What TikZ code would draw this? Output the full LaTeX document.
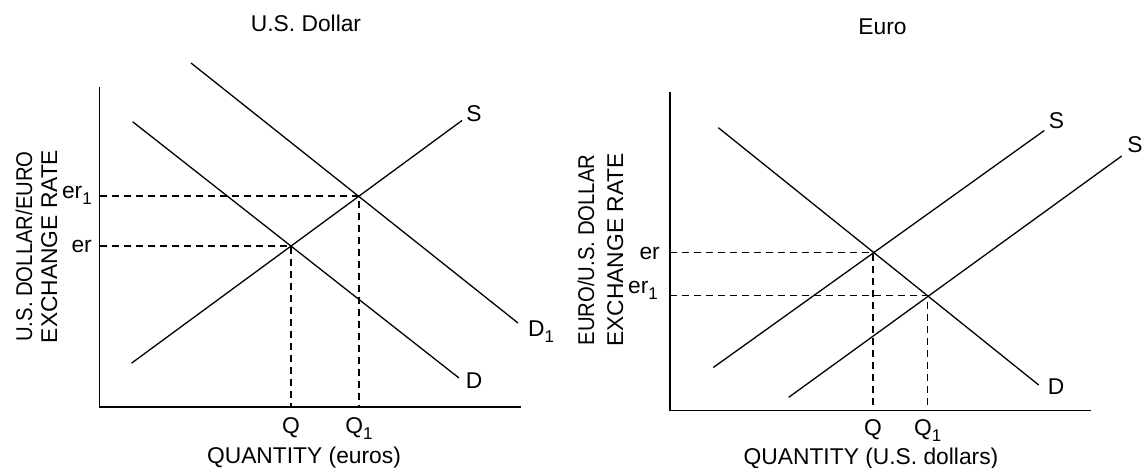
\documentclass[tikz,border=0pt]{standalone}
\usepackage{fontspec}
\setmainfont{Liberation Sans}
\newcommand\mysub[1]{\raisebox{-0.28em}{\fontsize{17}{17}\selectfont #1}}
\tikzset{
  lbl/.style={inner sep=0pt, font=\fontsize{22.8}{27}\selectfont},
  curve/.style={line width=1.3pt},
  axisline/.style={line width=1.4pt},
  guide/.style={line width=1.1pt, dash pattern=on 7pt off 5pt},
}
\begin{document}
\begin{tikzpicture}[x=1pt,y=-1pt]
\useasboundingbox (0,0) rectangle (1143,468);
% ---------------- Left panel ----------------
\coordinate (LO) at (99.5,407);
\coordinate (LT) at (99.5,87);
\coordinate (LX) at (521,407);
\coordinate (LE) at (291,246);
\coordinate (LE1) at (359,196);
\coordinate (LEy) at (99.5,246);
\coordinate (LE1y) at (99.5,196);
\coordinate (LEx) at (291,407);
\coordinate (LE1x) at (359,407);
\coordinate (LSa) at (131.5,363.2);
\coordinate (LSb) at (462,120.5);
\coordinate (LDa) at (132.6,121.7);
\coordinate (LDb) at (459,378);
\coordinate (LD1a) at (191,63);
\coordinate (LD1b) at (518,323);
\draw[axisline] (LT) -- (LO) -- (LX);
\draw[curve] (LSa) -- (LSb);
\draw[curve] (LDa) -- (LDb);
\draw[curve] (LD1a) -- (LD1b);
\draw[guide] (LEy) -- (LE) -- (LEx);
\draw[guide] (LE1y) -- (LE1) -- (LE1x);
\node[lbl, anchor=base] (ltitle) at (306,31.5) {U.S. Dollar};
\node[lbl, anchor=base east] (ler1) at (92,198) {er\mysub{1}};
\node[lbl, anchor=base east] (ler) at (92,252) {er};
\node[lbl, anchor=base] (lq) at (291,433) {Q};
\node[lbl, anchor=base] (lq1) at (359,433) {Q\mysub{1}};
\node[lbl, anchor=base] (lqty) at (304,463) {QUANTITY (euros)};
\node[lbl, anchor=base] (ls) at (474,122) {S};
\node[lbl, anchor=base] (ld) at (474,388) {D};
\node[lbl, anchor=base west] (ld1) at (528,336) {D\mysub{1}};
\node[lbl, anchor=base, rotate=90] (ly1) at (32,246.5) {\scalebox{0.89}[1]{U.S. DOLLAR/EURO}};
\node[lbl, anchor=base, rotate=90] (ly2) at (57,246.5) {EXCHANGE RATE};
% ---------------- Right panel ----------------
\coordinate (RO) at (670,410.5);
\coordinate (RT) at (670,92);
\coordinate (RX) at (1091,410.5);
\coordinate (RE) at (873,252.7);
\coordinate (RE1) at (927.7,295.7);
\coordinate (REy) at (670,252.7);
\coordinate (RE1y) at (670,295.7);
\coordinate (REx) at (873,410.5);
\coordinate (RE1x) at (927.7,410.5);
\coordinate (RDa) at (718.3,127.7);
\coordinate (RDb) at (1038.7,385);
\coordinate (RSa) at (713.3,367.5);
\coordinate (RSb) at (1044.3,130.5);
\coordinate (RS2a) at (788.7,397.3);
\coordinate (RS2b) at (1121.7,156);
\draw[axisline] (RT) -- (RO) -- (RX);
\draw[curve] (RDa) -- (RDb);
\draw[curve] (RSa) -- (RSb);
\draw[curve] (RS2a) -- (RS2b);
\draw[guide] (REy) -- (RE) -- (REx);
\draw[guide] (RE1y) -- (RE1) -- (RE1x);
\node[lbl, anchor=base] (rtitle) at (882.5,35) {Euro};
\node[lbl, anchor=base east] (rer) at (660,259) {er};
\node[lbl, anchor=base east] (rer1) at (658,293.5) {er\mysub{1}};
\node[lbl, anchor=base] (rq) at (873,435) {Q};
\node[lbl, anchor=base] (rq1) at (927.7,435) {Q\mysub{1}};
\node[lbl, anchor=base] (rqty) at (871,464.5) {QUANTITY (U.S. dollars)};
\node[lbl, anchor=base] (rs) at (1056.5,129) {S};
\node[lbl, anchor=base] (rs2) at (1135,153) {S};
\node[lbl, anchor=base] (rd) at (1056,394) {D};
\node[lbl, anchor=base, rotate=90] (ry1) at (594,250) {\scalebox{0.89}[1]{EURO/U.S. DOLLAR}};
\node[lbl, anchor=base, rotate=90] (ry2) at (623,250) {EXCHANGE RATE};
\end{tikzpicture}
\end{document}
